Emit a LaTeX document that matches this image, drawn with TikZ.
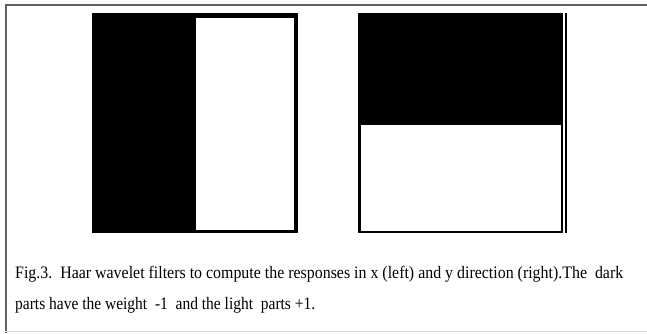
\documentclass[tikz,border=0pt]{standalone}
\usepackage{fontspec}
\setmainfont{Liberation Serif}
\usepackage{graphicx}
\definecolor{framegray}{HTML}{606060}
\definecolor{rulegray}{HTML}{D4D4D4}
\begin{document}
\begin{tikzpicture}[x=1pt,y=-1pt,
  caption/.style={anchor=base west,inner sep=0pt,font=\fontsize{17.5}{20}\selectfont}]
\useasboundingbox[fill=white] (0,0) rectangle (647,333);
% outer frame: top and left edges, faint bottom rule
\draw[framegray,line width=2pt] (5.5,333) -- (5.5,5) -- (647,5);
\draw[rulegray,line width=1pt] (5,331) -- (647,331);
% filter for the x direction: dark left half, light right half
\fill[black] (92.3,13.3) rectangle (298.3,233.3);
\fill[white] (196,18.3) rectangle (294.3,230);
% filter for the y direction: dark top half, light bottom half
\fill[black] (358.3,13.3) rectangle (562.7,233.3);
\fill[white] (360.7,125) rectangle (560.7,230.9);
\draw[black,line width=1.8pt] (566.2,13.3) -- (566.2,233.3);
% caption, set in a narrowed serif
\node[caption] (cap1) at (15,278)
  {\resizebox{608pt}{\height}{Fig.3.\ \ Haar wavelet filters to compute the responses in x (left) and y direction (right).The\ \ dark}};
\node[caption] (cap2) at (15,309)
  {\resizebox{300pt}{\height}{parts have the weight\ \ -1\ \ and the light\ \ parts +1.}};
\end{tikzpicture}
\end{document}
